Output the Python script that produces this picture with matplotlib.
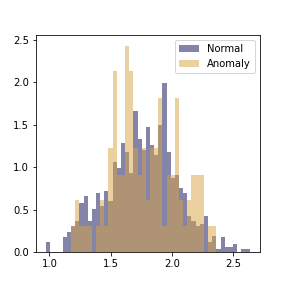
import numpy as np
import matplotlib
matplotlib.use("Agg")
import matplotlib.pyplot as plt

# shared bin range
bin_lo = 0.974
bin_hi = 2.636
n_bins = 49

normal_heights = [
    0.118, 0, 0, 0, 0.176, 0.235, 0.306, 0.365, 0.576, 0.66,
    0.365, 0.506, 0.69, 0.54, 0.72, 0.60, 1.06, 0.99, 1.29, 1.18,
    0.93, 1.66, 1.33, 1.20, 1.47, 1.26, 1.14, 1.50, 1.99, 1.18,
    0.87, 0.91, 0.75, 0.69, 0.42, 0.365, 0.306, 0.33, 0.42, 0.118,
    0.19, 0.035, 0.176, 0.059, 0.059, 0.094, 0, 0.035, 0.035,
]
anomaly_heights = [
    0, 0, 0, 0, 0, 0, 0.304, 0.61, 0.304, 0.304,
    0.304, 0, 0.304, 0.61, 0.304, 1.22, 2.13, 0.91, 0.91, 2.43,
    2.13, 1.22, 0.91, 1.22, 0.61, 1.22, 1.22, 1.82, 0.304, 0.91,
    0.91, 1.82, 0.61, 0.304, 0.61, 0.91, 0.91, 0.91, 0, 0.304,
    0.304, 0, 0, 0, 0, 0, 0, 0, 0,
]

edges = np.linspace(bin_lo, bin_hi, n_bins + 1)
left = edges[:-1]

fig, ax = plt.subplots(figsize=(4, 4), dpi=72)
fig.subplots_adjust(left=0.125, right=0.902, bottom=0.125, top=0.877)
ax.hist(left, bins=edges, weights=normal_heights, color='#0a0a55', alpha=0.5, label='Normal')
ax.hist(left, bins=edges, weights=anomaly_heights, color='#d9a541', alpha=0.5, label='Anomaly')
ax.legend(loc='upper right')
fig.savefig('out.png', dpi=72)
